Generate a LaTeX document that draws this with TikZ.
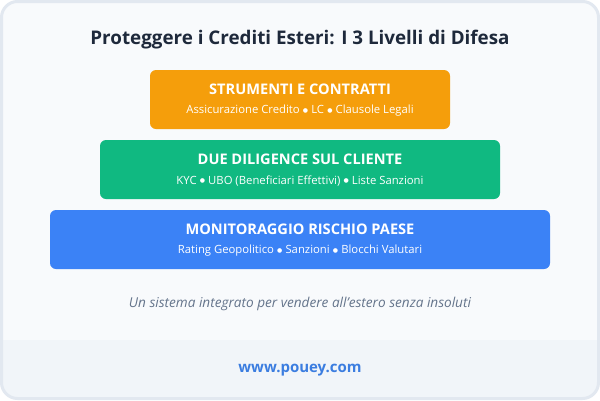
\documentclass[tikz,border=0pt]{standalone}
\usepackage{fontspec}
\setmainfont{Open Sans}
\newfontfamily\dvfont{DejaVu Sans}
\newcommand\blt{\hspace{0.28em}{\dvfont\fontsize{6}{8}\selectfont\raisebox{1.6pt}{●}}\hspace{0.28em}}
\definecolor{frame}{HTML}{E2E8F0}
\definecolor{card}{HTML}{F8FAFC}
\definecolor{foot}{HTML}{F1F5F9}
\definecolor{titlec}{HTML}{1E293B}
\definecolor{orangec}{HTML}{F59E0B}
\definecolor{greenc}{HTML}{10B981}
\definecolor{bluec}{HTML}{3B82F6}
\definecolor{greyc}{HTML}{64748B}
\definecolor{linkc}{HTML}{3B7DE0}
\begin{document}
\begin{tikzpicture}[x=1pt,y=-1pt,
  layer/.style={rounded corners=6pt, inner sep=0pt},
  ltitle/.style={text=white, font=\fontsize{14.6}{16}\selectfont\bfseries},
  lsub/.style={text=white, font=\fontsize{11.3}{13}\selectfont}]
\useasboundingbox (0,0) rectangle (600,400);
\fill[white] (0,0) rectangle (600,400);
\fill[card, rounded corners=16pt] (1.5,1.5) rectangle (598.5,398.5);
\begin{scope}
\clip[rounded corners=16pt] (1.5,1.5) rectangle (598.5,398.5);
\fill[foot] (1.5,340) rectangle (598.5,398.5);
\end{scope}
\draw[frame, line width=3pt, rounded corners=16pt] (1.5,1.5) rectangle (598.5,398.5);
\node[text=titlec, font=\fontsize{18.8}{22}\selectfont\bfseries] (title) at (300,40) {Proteggere i Crediti Esteri: I 3 Livelli di Difesa};
\fill[orangec, layer] (150,70) rectangle (450,129);
\node[ltitle] (t1) at (300,89) {STRUMENTI E CONTRATTI};
\node[lsub] (s1) at (300,111) {Assicurazione Credito\blt LC\blt Clausole Legali};
\fill[greenc, layer] (100,140) rectangle (500,199);
\node[ltitle] (t2) at (300,159) {DUE DILIGENCE SUL CLIENTE};
\node[lsub] (s2) at (300,181) {KYC\blt UBO (Beneficiari Effettivi)\blt Liste Sanzioni};
\fill[bluec, layer] (50,210) rectangle (550,269);
\node[ltitle] (t3) at (300,229) {MONITORAGGIO RISCHIO PAESE};
\node[lsub] (s3) at (300,251) {Rating Geopolitico\blt Sanzioni\blt Blocchi Valutari};
\node[text=greyc, font=\fontsize{13.6}{16}\selectfont\itshape] (cap) at (300,304) {Un sistema integrato per vendere all'estero senza insoluti};
\node[text=linkc, font=\fontsize{15}{17}\selectfont\bfseries] (url) at (300,370) {www.pouey.com};
\end{tikzpicture}
\end{document}
